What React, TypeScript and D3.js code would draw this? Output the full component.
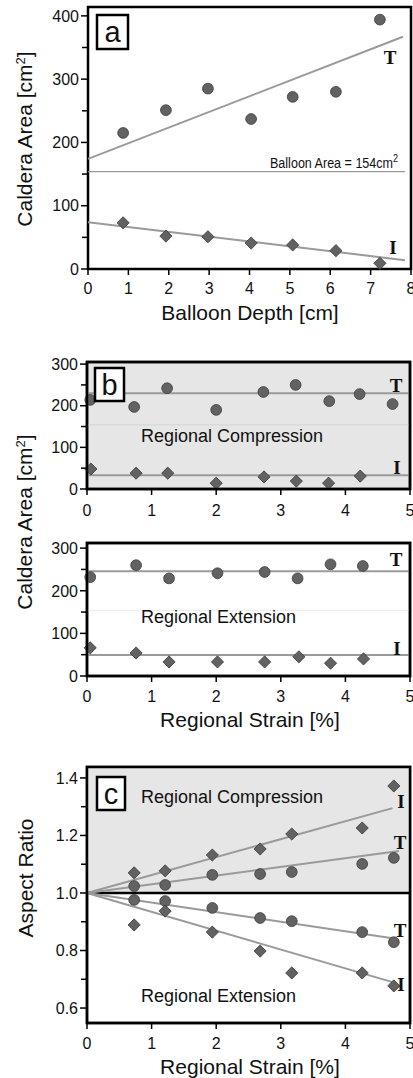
import React from "react";
import * as d3 from "d3";

// ---------- Panel a : Balloon depth ----------
const depthA = [0.87, 1.93, 2.97, 4.04, 5.07, 6.14, 7.23];
const areaTA = [215, 251, 285, 237, 272, 280, 394];
const areaIA = [73, 52, 51, 41, 38, 29, 9];
const fitTA: [number, number][] = [[0, 174], [7.8, 367]];
const fitIA: [number, number][] = [[0, 74], [7.85, 14]];
const balloonArea = 154;
const xTicksA = [0, 1, 2, 3, 4, 5, 6, 7, 8];
const yTicksA = [0, 100, 200, 300, 400];
const yMinorA = [50, 150, 250, 350];

// ---------- Panel b : Regional compression ----------
const strainBCT = [0.05, 0.73, 1.24, 2.0, 2.73, 3.23, 3.75, 4.22, 4.73];
const areaBCT = [214, 197, 242, 190, 233, 250, 211, 228, 204];
const strainBCI = [0.06, 0.76, 1.25, 2.0, 2.74, 3.24, 3.74, 4.23];
const areaBCI = [48, 38, 38, 14, 29, 19, 14, 31];
const fitBCT: [number, number][] = [[0, 230], [5, 230]];
const fitBCI: [number, number][] = [[0, 33], [5, 33]];

// ---------- Panel b : Regional extension ----------
const strainBET = [0.05, 0.76, 1.27, 2.02, 2.75, 3.26, 3.77, 4.27];
const areaBET = [232, 260, 229, 241, 244, 229, 262, 258];
const strainBEI = [0.05, 0.76, 1.27, 2.02, 2.75, 3.28, 3.77, 4.28];
const areaBEI = [66, 54, 33, 33, 33, 45, 30, 40];
const fitBET: [number, number][] = [[0, 246], [5, 246]];
const fitBEI: [number, number][] = [[0, 49], [5, 49]];
const xTicksB = [0, 1, 2, 3, 4, 5];
const yTicksB = [0, 100, 200, 300];
const yMinorB = [50, 150, 250];

// ---------- Panel c : Aspect ratio ----------
const strainC = [0.73, 1.21, 1.94, 2.68, 3.17, 4.26, 4.75];
const arCompI = [1.07, 1.077, 1.132, 1.153, 1.205, 1.226, 1.372];
const arCompT = [1.024, 1.028, 1.063, 1.066, 1.073, 1.101, 1.122];
const arExtT = [0.976, 0.972, 0.948, 0.913, 0.902, 0.864, 0.829];
const arExtI = [0.889, 0.937, 0.864, 0.798, 0.722, 0.722, 0.677];
const fitCompI: [number, number][] = [[0, 1], [4.73, 1.295]];
const fitCompT: [number, number][] = [[0, 1], [4.83, 1.146]];
const fitExtT: [number, number][] = [[0, 1], [4.73, 0.843]];
const fitExtI: [number, number][] = [[0, 1], [4.73, 0.69]];
const yTicksC = [0.6, 0.8, 1.0, 1.2, 1.4];
const yMinorC = [0.7, 0.9, 1.1, 1.3];

const SANS = "'Liberation Sans', Arial, sans-serif";
const SERIF = "'Liberation Serif', 'Times New Roman', serif";
const MARK_FILL = "#626262";
const MARK_STROKE = "#3d3d3d";
const FIT = "#9a9a9a";
const BG = "#e6e6e6";

type S = d3.ScaleLinear<number, number>;

function Circles({ xs, ys, x, y }: { xs: number[]; ys: number[]; x: S; y: S }) {
  return (
    <g>
      {xs.map((v, i) => (
        <circle key={i} cx={x(v)} cy={y(ys[i])} r={5.4} fill={MARK_FILL} stroke={MARK_STROKE} strokeWidth={0.8} />
      ))}
    </g>
  );
}

function Diamonds({ xs, ys, x, y }: { xs: number[]; ys: number[]; x: S; y: S }) {
  const sym = d3.symbol().type(d3.symbolSquare).size(74)();
  return (
    <g>
      {xs.map((v, i) => (
        <path key={i} d={sym || ""} transform={`translate(${x(v)},${y(ys[i])}) rotate(45)`} fill={MARK_FILL} stroke={MARK_STROKE} strokeWidth={0.8} />
      ))}
    </g>
  );
}

function Fit({ pts, x, y }: { pts: [number, number][]; x: S; y: S }) {
  const line = d3.line<[number, number]>().x((d) => x(d[0])).y((d) => y(d[1]));
  return <path d={line(pts) || ""} stroke={FIT} strokeWidth={2} fill="none" />;
}

function YAxis({ y, x0, ticks, minor, fmt }: { y: S; x0: number; ticks: number[]; minor: number[]; fmt: (v: number) => string }) {
  return (
    <g>
      {ticks.map((t) => (
        <g key={"M" + t}>
          <line x1={x0 - 7} x2={x0} y1={y(t)} y2={y(t)} stroke="#000" strokeWidth={1.5} />
          <text x={x0 - 9} y={y(t)} dy="0.36em" textAnchor="end" fontFamily={SANS} fontSize={16} fill="#111">
            {fmt(t)}
          </text>
        </g>
      ))}
      {minor.map((t) => (
        <line key={"m" + t} x1={x0 - 6} x2={x0} y1={y(t)} y2={y(t)} stroke="#000" strokeWidth={1.5} />
      ))}
    </g>
  );
}

function XAxis({ x, y0, ticks, labelY }: { x: S; y0: number; ticks: number[]; labelY: number }) {
  return (
    <g>
      {ticks.map((t) => (
        <g key={t}>
          <line x1={x(t)} x2={x(t)} y1={y0} y2={y0 + 6} stroke="#000" strokeWidth={1.5} />
          <text x={x(t)} y={labelY} textAnchor="middle" fontFamily={SANS} fontSize={16} fill="#111">
            {t}
          </text>
        </g>
      ))}
    </g>
  );
}

function LetterBox({ x, y, w, h, letter }: { x: number; y: number; w: number; h: number; letter: string }) {
  return (
    <g>
      <rect x={x} y={y} width={w} height={h} fill="#fff" stroke="#000" strokeWidth={2.5} />
      <text x={x + w / 2} y={y + h / 2} dy="0.36em" textAnchor="middle" fontFamily={SANS} fontSize={29} fill="#111">
        {letter}
      </text>
    </g>
  );
}

function Lbl({ x, y, t }: { x: number; y: number; t: string }) {
  return (
    <text x={x} y={y} dy="0.36em" textAnchor="middle" fontFamily={SERIF} fontWeight="bold" fontSize={19} fill="#111">
      {t}
    </text>
  );
}

export default function App() {
  const xA = d3.scaleLinear().domain([0, 8]).range([88, 411]);
  const yA = d3.scaleLinear().domain([0, 414]).range([269, 7]);
  const xB = d3.scaleLinear().domain([0, 5]).range([87, 410]);
  const yBC = d3.scaleLinear().domain([0, 305]).range([489, 362]);
  const yBE = d3.scaleLinear().domain([0, 312]).range([676, 543]);
  const xC = d3.scaleLinear().domain([0, 5]).range([87, 410]);
  const yC = d3.scaleLinear().domain([0.548, 1.438]).range([1023, 767]);

  const fmtInt = (v: number) => String(v);
  const fmtC = d3.format(".1f");

  const frame = (x: S, y: S, fill: string) => (
    <rect
      x={x.range()[0]}
      y={y.range()[1]}
      width={x.range()[1] - x.range()[0]}
      height={y.range()[0] - y.range()[1]}
      fill={fill}
      stroke="#000"
      strokeWidth={2.5}
    />
  );

  return (
    <svg width={413} height={1078} style={{ position: "absolute", left: 0, top: 0, background: "#fff" }}>
      {/* ===== Panel a ===== */}
      {frame(xA, yA, "#fff")}
      <line x1={xA(0)} x2={xA(7.85)} y1={yA(balloonArea)} y2={yA(balloonArea)} stroke="#9a9a9a" strokeWidth={1.3} />
      <text x={270} y={yA(balloonArea) - 4} fontFamily={SANS} fontSize={14} fill="#111" textLength={128} lengthAdjust="spacingAndGlyphs">
        Balloon Area = 154cm
        <tspan dy={-6} fontSize={10}>2</tspan>
      </text>
      <Fit pts={fitTA} x={xA} y={yA} />
      <Fit pts={fitIA} x={xA} y={yA} />
      <Circles xs={depthA} ys={areaTA} x={xA} y={yA} />
      <Diamonds xs={depthA} ys={areaIA} x={xA} y={yA} />
      <Lbl x={390} y={57} t="T" />
      <Lbl x={393} y={247} t="I" />
      <YAxis y={yA} x0={88} ticks={yTicksA} minor={yMinorA} fmt={fmtInt} />
      <XAxis x={xA} y0={269} ticks={xTicksA} labelY={294} />
      <LetterBox x={97} y={15} w={31} h={34} letter="a" />
      <text x={250} y={320} textAnchor="middle" fontFamily={SANS} fontSize={21} fill="#111">
        Balloon Depth [cm]
      </text>
      <text transform={`translate(32,139) rotate(-90)`} textAnchor="middle" fontFamily={SANS} fontSize={21} fill="#111">
        Caldera Area [cm<tspan dy={-7} fontSize={13}>2</tspan><tspan dy={7}>]</tspan>
      </text>

      {/* ===== Panel b (compression) ===== */}
      {frame(xB, yBC, BG)}
      <line x1={xB(0)} x2={xB(5)} y1={yBC(154)} y2={yBC(154)} stroke="#d4d4d4" strokeWidth={1} />
      <Fit pts={fitBCT} x={xB} y={yBC} />
      <Fit pts={fitBCI} x={xB} y={yBC} />
      <Circles xs={strainBCT} ys={areaBCT} x={xB} y={yBC} />
      <Diamonds xs={strainBCI} ys={areaBCI} x={xB} y={yBC} />
      <Lbl x={396} y={385} t="T" />
      <Lbl x={397} y={467} t="I" />
      <text x={141} y={436} dy="0.36em" fontFamily={SANS} fontSize={18} fill="#111">
        Regional Compression
      </text>
      <YAxis y={yBC} x0={87} ticks={yTicksB} minor={yMinorB} fmt={fmtInt} />
      <XAxis x={xB} y0={489} ticks={xTicksB} labelY={516} />
      <LetterBox x={95} y={368} w={29} h={33} letter="b" />
      <rect x={xB(0)} y={362} width={xB(5) - xB(0)} height={489 - 362} fill="none" stroke="#000" strokeWidth={2.5} />

      {/* ===== Panel b (extension) ===== */}
      {frame(xB, yBE, "#fff")}
      <line x1={xB(0)} x2={xB(5)} y1={yBE(154)} y2={yBE(154)} stroke="#ececec" strokeWidth={1} />
      <Fit pts={fitBET} x={xB} y={yBE} />
      <Fit pts={fitBEI} x={xB} y={yBE} />
      <Circles xs={strainBET} ys={areaBET} x={xB} y={yBE} />
      <Diamonds xs={strainBEI} ys={areaBEI} x={xB} y={yBE} />
      <Lbl x={396} y={559} t="T" />
      <Lbl x={397} y={648} t="I" />
      <text x={141} y={617} dy="0.36em" fontFamily={SANS} fontSize={18} fill="#111">
        Regional Extension
      </text>
      <YAxis y={yBE} x0={87} ticks={yTicksB} minor={yMinorB} fmt={fmtInt} />
      <XAxis x={xB} y0={676} ticks={xTicksB} labelY={702} />
      <rect x={xB(0)} y={543} width={xB(5) - xB(0)} height={676 - 543} fill="none" stroke="#000" strokeWidth={2.5} />
      <text x={250} y={727} textAnchor="middle" fontFamily={SANS} fontSize={21} fill="#111">
        Regional Strain [%]
      </text>
      <text transform={`translate(32,522) rotate(-90)`} textAnchor="middle" fontFamily={SANS} fontSize={21} fill="#111">
        Caldera Area [cm<tspan dy={-7} fontSize={13}>2</tspan><tspan dy={7}>]</tspan>
      </text>

      {/* ===== Panel c ===== */}
      {frame(xC, yC, "#fff")}
      <rect x={xC(0)} y={yC(1.438)} width={xC(5) - xC(0)} height={yC(1.0) - yC(1.438)} fill={BG} />
      <line x1={xC(0)} x2={xC(5)} y1={yC(1.0)} y2={yC(1.0)} stroke="#000" strokeWidth={2.5} />
      <Fit pts={fitCompI} x={xC} y={yC} />
      <Fit pts={fitCompT} x={xC} y={yC} />
      <Fit pts={fitExtT} x={xC} y={yC} />
      <Fit pts={fitExtI} x={xC} y={yC} />
      <Diamonds xs={strainC} ys={arCompI} x={xC} y={yC} />
      <Circles xs={strainC} ys={arCompT} x={xC} y={yC} />
      <Circles xs={strainC} ys={arExtT} x={xC} y={yC} />
      <Diamonds xs={strainC} ys={arExtI} x={xC} y={yC} />
      <Lbl x={401} y={801} t="I" />
      <Lbl x={400} y={842} t="T" />
      <Lbl x={400} y={930} t="T" />
      <Lbl x={401} y={984} t="I" />
      <text x={141} y={797} dy="0.36em" fontFamily={SANS} fontSize={18} fill="#111">
        Regional Compression
      </text>
      <text x={141} y={996} dy="0.36em" fontFamily={SANS} fontSize={18} fill="#111">
        Regional Extension
      </text>
      <YAxis y={yC} x0={87} ticks={yTicksC} minor={yMinorC} fmt={fmtC} />
      <XAxis x={xC} y0={1023} ticks={xTicksB} labelY={1049} />
      <rect x={xC(0)} y={767} width={xC(5) - xC(0)} height={1023 - 767} fill="none" stroke="#000" strokeWidth={2.5} />
      <LetterBox x={97} y={777} w={28} h={33} letter="c" />
      <text x={250} y={1074} textAnchor="middle" fontFamily={SANS} fontSize={21} fill="#111">
        Regional Strain [%]
      </text>
      <text transform={`translate(33,878) rotate(-90)`} textAnchor="middle" fontFamily={SANS} fontSize={21} fill="#111">
        Aspect Ratio
      </text>
    </svg>
  );
}
